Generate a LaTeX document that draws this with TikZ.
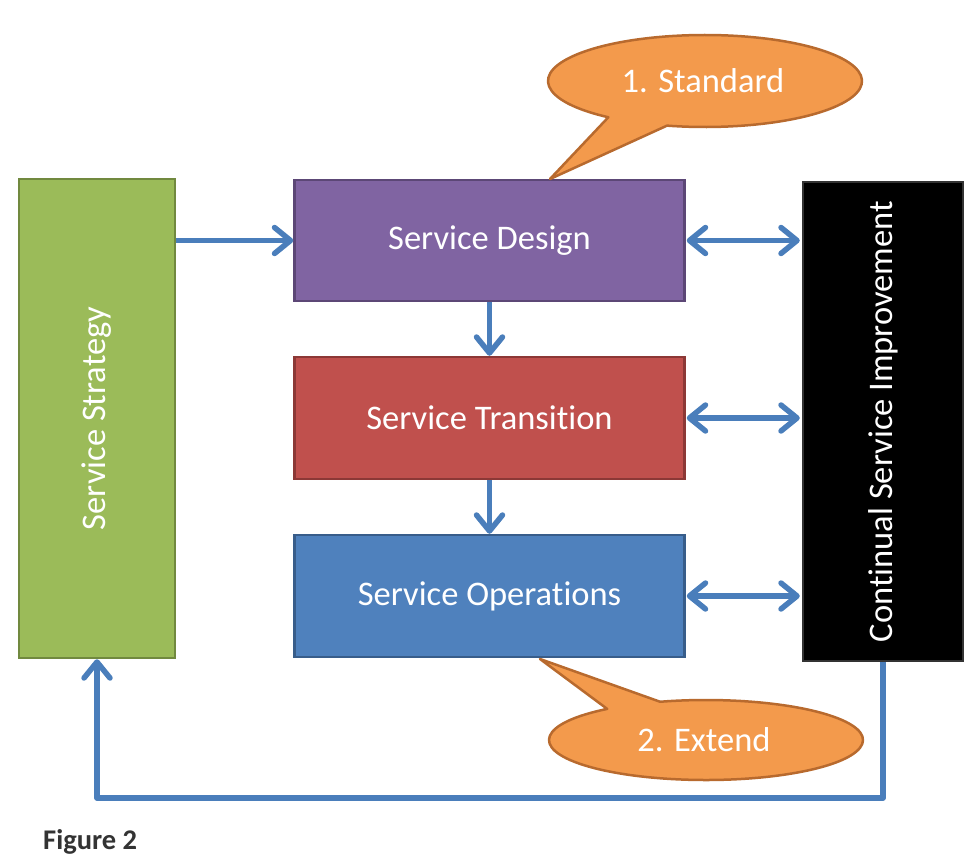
\documentclass[tikz,border=0pt]{standalone}
\usepackage{fontspec}
\setmainfont{Carlito}[Ligatures=NoCommon]
\usetikzlibrary{arrows.meta,calc}
\definecolor{arrblue}{HTML}{4A7EBB}
\definecolor{purpfill}{HTML}{8064A2}
\definecolor{purpline}{HTML}{5C4776}
\definecolor{redfill}{HTML}{C0504D}
\definecolor{redline}{HTML}{8C3836}
\definecolor{bluefill}{HTML}{4F81BD}
\definecolor{blueline}{HTML}{385D8A}
\definecolor{greenfill}{HTML}{9BBB59}
\definecolor{greenline}{HTML}{71893F}
\definecolor{orfill}{HTML}{F39A4C}
\definecolor{orline}{HTML}{B86A2E}
\definecolor{figgray}{HTML}{333333}
\tikzset{
  boxstyle/.style={rectangle, line width=2.5pt, text=white, inner sep=0pt,
    font=\fontsize{34.5}{40}\selectfont},
  arr/.style={draw=arrblue, line width=5.5pt, line join=round,
    -{Straight Barb[length=16pt,width=26pt,line cap=round,line join=round]}},
  darr/.style={draw=arrblue, line width=5.5pt, line join=round,
    {Straight Barb[length=16pt,width=26pt,line cap=round,line join=round]}-{Straight Barb[length=16pt,width=26pt,line cap=round,line join=round]}},
  callout/.style={fill=orfill, draw=orline, line width=2.5pt, line join=round},
  calltext/.style={text=white, font=\fontsize{34.5}{40}\selectfont, inner sep=0pt}
}
\begin{document}
\begin{tikzpicture}[x=1pt,y=-1pt]
\useasboundingbox (0,0) rectangle (980,862);
% boxes
\node[boxstyle, fill=greenfill, draw=greenline, minimum width=156pt, minimum height=479pt]
  (strat) at (97,418.5) {\rotatebox{90}{Service Strategy}};
\node[boxstyle, fill=purpfill, draw=purpline, minimum width=390pt, minimum height=121pt]
  (design) at (489.5,240.5) {Service Design};
\node[boxstyle, fill=redfill, draw=redline, minimum width=390pt, minimum height=122pt]
  (trans) at (489.5,418) {Service Transition};
\node[boxstyle, fill=bluefill, draw=blueline, minimum width=390pt, minimum height=122pt]
  (ops) at (489.5,596) {Service Operations};
\node[boxstyle, fill=black, draw=black!80, minimum width=160pt, minimum height=479pt]
  (csi) at (883,421.5) {\rotatebox{90}{Continual Service Improvement}};
% arrows
\draw[arr] (strat.east |- design.west) -- (design.west);
\draw[arr] (design.south) -- (trans.north);
\draw[arr] (trans.south) -- (ops.north);
\draw[darr] ([xshift=1pt]design.east) -- ([xshift=-2pt]design.east -| csi.west);
\draw[darr] ([xshift=1pt]trans.east) -- ([xshift=-2pt]trans.east -| csi.west);
\draw[darr] ([xshift=1pt]ops.east) -- ([xshift=-2pt]ops.east -| csi.west);
\coordinate (loop) at (883,798);
\draw[arr] (csi.south) -- (csi.south |- loop) -| (strat.south);
% callout 1
\coordinate (c1) at (705,81);
\coordinate (tip1) at (550,179);
\path[callout] ($(c1)+(104:157 and 46)$) -- (tip1) -- ($(c1)+(128:157 and 46)$)
  arc[start angle=128, end angle=464, x radius=157, y radius=46] -- cycle;
\node[calltext] (std) at (703,81) {1. Standard};
% callout 2
\coordinate (c2) at (706,740);
\coordinate (tip2) at (540,659);
\path[callout] ($(c2)+(253:157 and 40)$) -- (tip2) -- ($(c2)+(231:157 and 40)$)
  arc[start angle=231, end angle=-107, x radius=157, y radius=40] -- cycle;
\node[calltext] (ext) at (704,740) {2. Extend};
% caption
\node[anchor=base west, inner sep=0pt, text=figgray, font=\fontsize{28.5}{32}\selectfont\bfseries]
  (fig) at (43,849) {Figure 2};
\end{tikzpicture}
\end{document}
